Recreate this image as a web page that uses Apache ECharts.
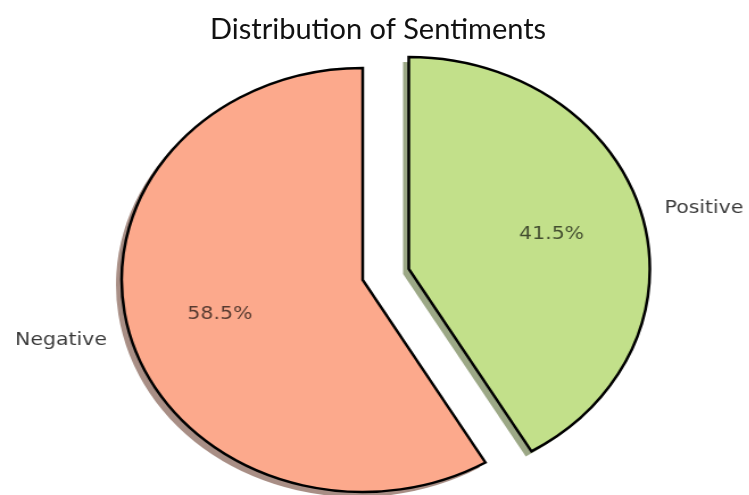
<!DOCTYPE html>
<html>
<head>
<meta charset="utf-8">
<script src="https://cdn.jsdelivr.net/npm/echarts@6/dist/echarts.min.js"></script>
<style>
  html, body { margin: 0; padding: 0; background: #fff; }
  #wrap { position: relative; width: 749px; height: 495px; overflow: hidden; }
  /* the source picture is stretched sideways, so the pie is drawn round and widened */
  #pie { position: absolute; left: 0; top: 0; width: 659px; height: 495px;
         transform: scaleX(1.137); transform-origin: 0 0; }
  #title { position: absolute; left: 0; top: 0; width: 749px; height: 60px; pointer-events: none; }
</style>
</head>
<body>
<div id="wrap">
  <div id="pie"></div>
  <div id="title"></div>
</div>
<script>
// data, clockwise from the top
var categories = ['Positive', 'Negative'];
var shares = [41.5, 58.5];
var explodedCategory = 'Positive';
var fillColors = ['#c2e08a', '#fca98c'];
var shadowColors = ['rgba(95,115,60,0.62)', 'rgba(115,72,58,0.62)'];

var titleText = 'Distribution of Sentiments';

var pieCenter = [319, 280];
var pieRadius = 212;

function buildData(mode) {
    var data = [];
    for (let i = 0, len = categories.length; i < len; i++) {
        var item = {
            name: categories[i],
            value: shares[i],
            selected: categories[i] === explodedCategory
        };
        if (mode === 'shadow') {
            item.itemStyle = { color: fillColors[i], shadowColor: shadowColors[i] };
        } else if (mode === 'fill') {
            item.itemStyle = { color: fillColors[i] };
        }
        data.push(item);
    }
    return data;
}

function baseSeries(radius) {
    return {
        type: 'pie',
        center: pieCenter,
        radius: radius,
        startAngle: 90,
        clockwise: true,
        selectedMode: 'single',
        selectedOffset: 42,
        avoidLabelOverlap: false,
        silent: true
    };
}

// shadow layer under the slices (no border, so the edge casts no shadow inside)
var shadowSeries = Object.assign(baseSeries([0, pieRadius]), {
    itemStyle: {
        borderWidth: 0,
        shadowBlur: 0,
        shadowOffsetX: -5,
        shadowOffsetY: 5
    },
    label: { show: false },
    labelLine: { show: false },
    data: buildData('shadow')
});

var fillSeries = Object.assign(baseSeries([0, pieRadius]), {
    itemStyle: {
        borderColor: '#000',
        borderWidth: 2.5,
        borderJoin: 'miter'
    },
    label: {
        show: true,
        position: 'outside',
        formatter: '{b}',
        fontFamily: 'DejaVu Sans',
        fontSize: 18,
        color: 'rgba(0,0,0,0.78)',
        distanceToLabelLine: 5
    },
    labelLine: {
        show: false,
        length: 16,
        length2: 0
    },
    data: buildData('fill')
});

// transparent ring so that the percentages sit at 0.6 of the radius
var pctSeries = Object.assign(baseSeries([pieRadius * 0.2, pieRadius]), {
    itemStyle: {
        color: 'rgba(0,0,0,0)',
        borderWidth: 0
    },
    label: {
        show: true,
        position: 'inside',
        formatter: function (p) {
            return p.value.toFixed(1) + '%';
        },
        fontFamily: 'DejaVu Sans',
        fontSize: 18,
        color: 'rgba(0,0,0,0.66)'
    },
    labelLine: { show: false },
    data: buildData('none')
});

var pieChart = echarts.init(document.getElementById('pie'), null, { renderer: 'canvas' });
pieChart.setOption({
    animation: false,
    series: [shadowSeries, fillSeries, pctSeries]
});

var titleChart = echarts.init(document.getElementById('title'), null, { renderer: 'canvas' });
titleChart.setOption({
    animation: false,
    title: {
        text: titleText,
        left: 205,
        top: 10,
        textStyle: {
            fontFamily: 'Lato',
            fontSize: 29,
            fontWeight: 'normal',
            color: '#111'
        }
    }
});
</script>
</body>
</html>
